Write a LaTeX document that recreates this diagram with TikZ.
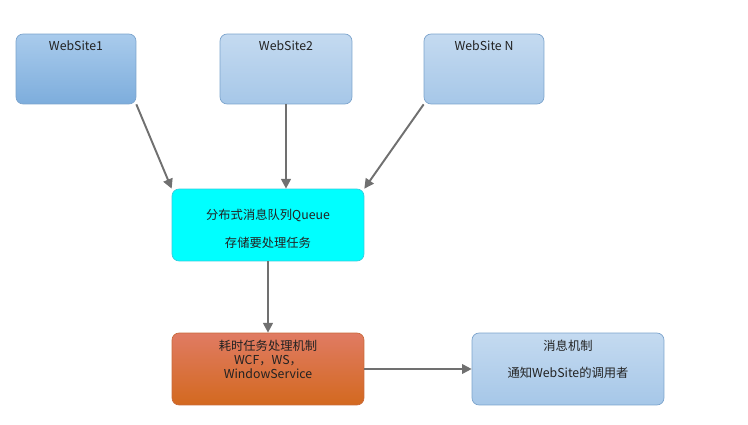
\documentclass[tikz,border=0pt]{standalone}
\usepackage{fontspec}
\setmainfont{Noto Sans CJK SC}
\usetikzlibrary{arrows.meta}

\definecolor{siteDark}{HTML}{7DADDC}
\definecolor{siteDarkTop}{HTML}{A9CBEC}
\definecolor{siteTop}{HTML}{C4DAF0}
\definecolor{siteBottom}{HTML}{A6C7E8}
\definecolor{siteLine}{HTML}{7BA3CC}
\definecolor{queueFill}{HTML}{00FFFF}
\definecolor{queueLine}{HTML}{33CCDD}
\definecolor{workTop}{HTML}{E07B63}
\definecolor{workBottom}{HTML}{D3691F}
\definecolor{workLine}{HTML}{C8693A}
\definecolor{linkGray}{HTML}{707070}
\definecolor{textDark}{HTML}{222222}

\tikzset{
    site/.style={draw=siteLine, rounded corners=4pt, top color=siteTop, bottom color=siteBottom,
        minimum width=2.4cm, minimum height=1.4cm},
    bigbox/.style={rounded corners=4pt, minimum width=3.84cm, minimum height=1.44cm},
    txt/.style={text=textDark, inner sep=0pt},
    link/.style={draw=linkGray, line width=1.1pt, -{Triangle[length=5.5pt,width=5.5pt]}}
}

\begin{document}
\begin{tikzpicture}[x=0.02cm, y=-0.02cm, font=\fontsize{7}{8}\selectfont]

    \useasboundingbox (0,0) rectangle (748,425);

    % Web sites
    \node[site, top color=siteDarkTop, bottom color=siteDark] (ws1) at (76,69) {};
    \node[txt] (ws1t) at (76,46) {WebSite1};
    \node[site, minimum width=2.64cm] (ws2) at (286,69) {};
    \node[txt] (ws2t) at (286,46) {WebSite2};
    \node[site] (wsn) at (484,69) {};
    \node[txt] (wsnt) at (484,46) {WebSite N};

    % Queue
    \node[bigbox, draw=queueLine, fill=queueFill] (queue) at (268,225) {};
    \node[txt] (queuet1) at (268,215) {分布式消息队列Queue};
    \node[txt] (queuet2) at (268,243) {存储要处理任务};

    % Worker
    \node[bigbox, draw=workLine, top color=workTop, bottom color=workBottom] (work) at (268,369) {};
    \node[txt, align=center] (workt) at (268,359) {耗时任务处理机制\\WCF，WS，\\WindowService};

    % Notify
    \node[site, bigbox] (notify) at (568,369) {};
    \node[txt] (notifyt1) at (568,346) {消息机制};
    \node[txt] (notifyt2) at (568,373) {通知WebSite的调用者};

    % Links
    \draw[link] (ws1.south east) -- (queue.north west);
    \draw[link] (ws2.south) -- (ws2.south |- queue.north);
    \draw[link] (wsn.south west) -- (queue.north east);
    \draw[link] (queue) -- (work);
    \draw[link] (work) -- (notify);

\end{tikzpicture}
\end{document}
